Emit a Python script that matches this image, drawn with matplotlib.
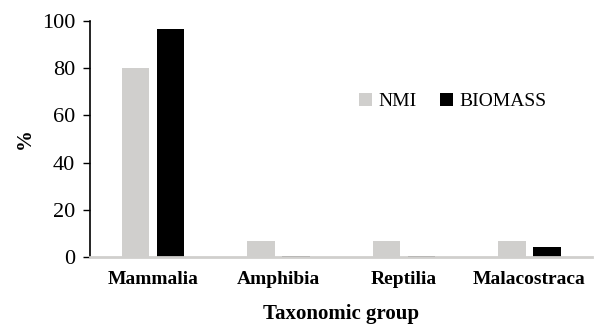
import matplotlib
matplotlib.use("Agg")
import matplotlib.pyplot as plt
import numpy as np

groups = ["Mammalia", "Amphibia", "Reptilia", "Malacostraca"]
nmi = [80.0, 6.5, 6.5, 6.5]
biomass = [96.5, 0.5, 0.5, 4.3]
yticks = [0, 20, 40, 60, 80, 100]

plt.rcParams.update({
    "font.family": ["Liberation Serif", "DejaVu Serif"],
    "font.size": 13,
})

fig = plt.figure(figsize=(5.94, 3.25), dpi=100)
ax = fig.add_axes([0.152, 0.21, 0.845, 0.725])

x = np.arange(len(groups))
w = 0.22
ax.bar(x - 0.14, nmi, w, color="#d0cfcd", label="NMI")
ax.bar(x + 0.14, biomass, w, color="#000000", label="BIOMASS")

ax.set_xlim(-0.5, 3.5)
ax.set_ylim(0, 100)
ax.set_yticks(yticks)
ax.set_xticks(x)
ax.set_xticklabels(groups, fontweight="bold", fontsize=14)
ax.tick_params(axis="x", length=0, pad=10)
ax.tick_params(axis="y", length=5, width=1, direction="out", pad=6, labelsize=16)

for s in ["top", "right"]:
    ax.spines[s].set_visible(False)
ax.spines["bottom"].set_color("#d0cfcd")
ax.spines["bottom"].set_linewidth(2)
ax.spines["left"].set_linewidth(1.2)

ax.set_ylabel("%", fontweight="bold", fontsize=15, labelpad=5)
ax.set_xlabel("Taxonomic group", fontweight="bold", fontsize=15, labelpad=12)

ax.legend(loc="upper left", bbox_to_anchor=(0.5, 0.77), ncol=2, frameon=False,
          handlelength=0.7, handleheight=0.7, handletextpad=0.3, columnspacing=1.2,
          fontsize=14)

fig.savefig("out.png", dpi=100)
